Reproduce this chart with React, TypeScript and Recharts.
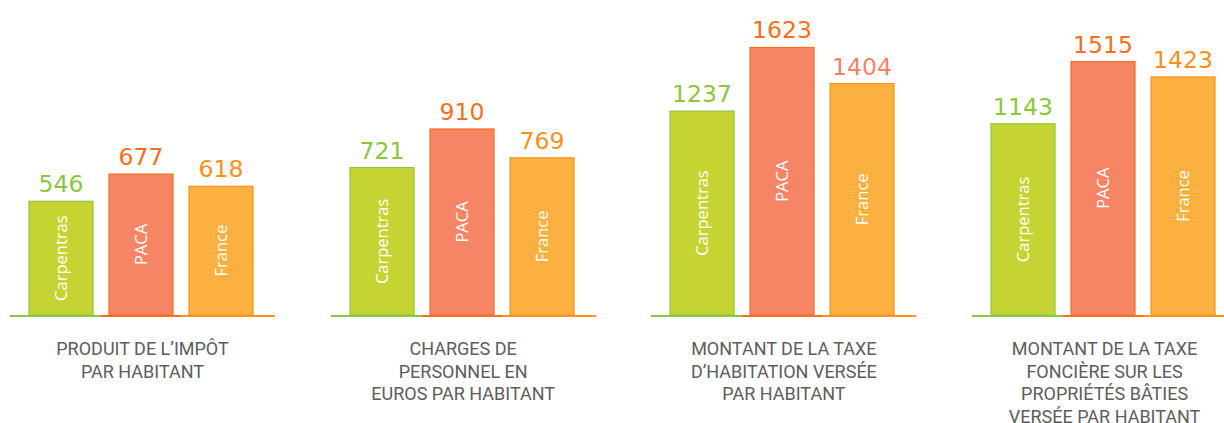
import React from 'react';
import { BarChart, Bar, XAxis, YAxis, LabelList } from 'recharts';

const categories = ['Carpentras', 'PACA', 'France'];

const impotParHabitant = [546, 677, 618];
const chargesPersonnel = [721, 910, 769];
const taxeHabitation = [1237, 1623, 1404];
const taxeFonciere = [1143, 1515, 1423];

const panelTitles = [
  ["PRODUIT DE L\u2019IMPÔT", 'PAR HABITANT'],
  ['CHARGES DE', 'PERSONNEL EN', 'EUROS PAR HABITANT'],
  ['MONTANT DE LA TAXE', 'D\u2019HABITATION VERSÉE', 'PAR HABITANT'],
  ['MONTANT DE LA TAXE', 'FONCIÈRE SUR LES', 'PROPRIÉTÉS BÂTIES', 'VERSÉE PAR HABITANT'],
];

// each little chart has its own scale in the original
const domainMax = [1513, 1541, 1911, 1883];

const FILLS = ['#c5d433', '#f58565', '#fbb040'];
const STROKES = ['#8dc63f', '#f37021', '#f7941d'];
const LABEL_COLORS = [
  ['#8cc63f', '#f36f21', '#f7901e'],
  ['#8cc63f', '#f36f21', '#f7901e'],
  ['#8cc63f', '#f36f21', '#f4826a'],
  ['#8cc63f', '#f36f21', '#f7901e'],
];

const panels = [impotParHabitant, chargesPersonnel, taxeHabitation, taxeFonciere];

const BarShape = (props: any) => {
  const { x, y, width, height, index, payload } = props;
  const bottom = y + height;
  const left = index === 0 ? x - 19 : x - 8;
  const right = index === 2 ? x + width + 22 : x + width + 8;
  const cx = x + width / 2;
  const cy = y + height / 2;
  return (
    <g>
      <rect x={x} y={y} width={width} height={height} fill={FILLS[index]} stroke={STROKES[index]} strokeWidth={1.2} />
      <line x1={left} x2={right} y1={bottom + 1} y2={bottom + 1} stroke={STROKES[index]} strokeWidth={2} />
      <text
        x={cx}
        y={cy}
        transform={`rotate(-90 ${cx} ${cy})`}
        textAnchor="middle"
        dominantBaseline="central"
        fill="#ffffff"
        fontFamily="'Open Sans', sans-serif"
        fontSize={16.5}
      >
        {payload.name}
      </text>
    </g>
  );
};

const Panel = ({ values, panelIndex }: { values: number[]; panelIndex: number }) => {
  const data = categories.map((name, i) => ({ name, value: values[i] }));
  const colors = LABEL_COLORS[panelIndex];
  return (
    <BarChart width={280} height={318} data={data} margin={{ top: 0, right: 29, bottom: 3, left: 11 }}>
      <XAxis dataKey="name" hide />
      <YAxis hide domain={[0, domainMax[panelIndex]]} />
      <Bar dataKey="value" barSize={64} isAnimationActive={false} shape={<BarShape />}>
        <LabelList
          dataKey="value"
          content={(p: any) => (
            <text
              x={p.x + p.width / 2}
              y={p.y - 9}
              textAnchor="middle"
              fill={colors[p.index]}
              fontFamily="'DejaVu Sans', sans-serif"
              fontSize={23.5}
            >
              {p.value}
            </text>
          )}
        />
      </Bar>
    </BarChart>
  );
};

export default function App() {
  return (
    <div
      style={{
        position: 'absolute',
        top: 0,
        left: 0,
        width: 1224,
        height: 423,
        overflow: 'hidden',
        background: '#ffffff',
      }}
    >
      {panels.map((values, i) => {
        const left = 10 + i * 320.7;
        return (
          <React.Fragment key={i}>
            <div style={{ position: 'absolute', left, top: 0 }}>
              <Panel values={values} panelIndex={i} />
            </div>
            <div
              style={{
                position: 'absolute',
                left,
                top: 338,
                width: 265,
                textAlign: 'center',
                fontFamily: 'Roboto, sans-serif',
                fontSize: 18,
                lineHeight: '22.7px',
                color: '#5d5d5d',
              }}
            >
              {panelTitles[i].map((line, j) => (
                <div key={j}>{line}</div>
              ))}
            </div>
          </React.Fragment>
        );
      })}
    </div>
  );
}
